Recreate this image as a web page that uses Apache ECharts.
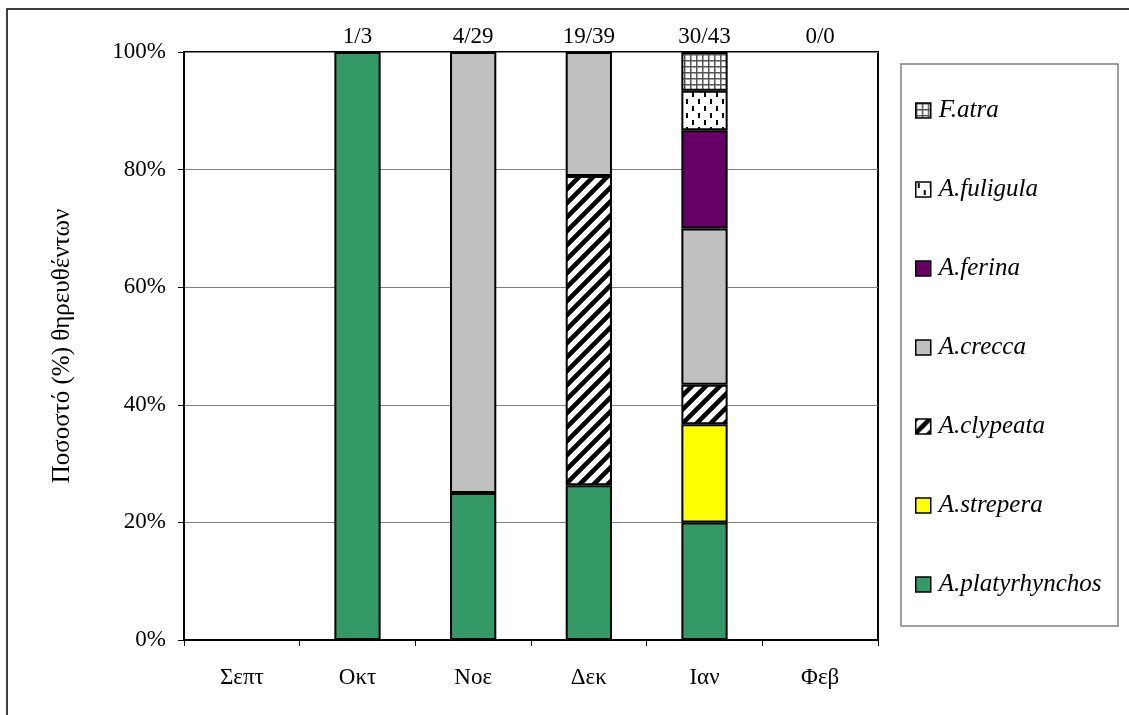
<!DOCTYPE html>
<html>
<head>
<meta charset="utf-8">
<script src="https://cdn.jsdelivr.net/npm/echarts@6/dist/echarts.min.js"></script>
<style>
  html, body { margin: 0; padding: 0; background: #fff; }
  #chart { width: 1129px; height: 715px; }
</style>
</head>
<body>
<div id="chart"></div>
<script>
var months = ['Σεπτ', 'Οκτ', 'Νοε', 'Δεκ', 'Ιαν', 'Φεβ']
var totals = ['', '1/3', '4/29', '19/39', '30/43', '0/0']
var yTicks = [0, 20, 40, 60, 80, 100]

// percentages per month (null = none caught)
var platyrhynchos = [null, 100, 25, 26.3, 20, null]
var strepera = [null, null, null, null, 16.7, null]
var clypeata = [null, null, null, 52.6, 6.7, null]
var crecca = [null, null, 75, 21.1, 26.6, null]
var ferina = [null, null, null, null, 16.7, null]
var fuligula = [null, null, null, null, 6.7, null]
var atra = [null, null, null, null, 6.6, null]

var FONT = 'Liberation Serif'

// hatch fills
function stripes () {
  var s = 14
  var c = document.createElement('canvas')
  c.width = s; c.height = s
  var ctx = c.getContext('2d')
  ctx.fillStyle = '#fff'
  ctx.fillRect(0, 0, s, s)
  ctx.strokeStyle = '#000'
  ctx.lineWidth = 4.6
  ctx.beginPath()
  ctx.moveTo(-2, s + 2); ctx.lineTo(s + 2, -2)
  ctx.moveTo(-3, 3); ctx.lineTo(3, -3)
  ctx.moveTo(s - 3, s + 3); ctx.lineTo(s + 3, s - 3)
  ctx.stroke()
  return c
}
function dashes () {
  var c = document.createElement('canvas')
  c.width = 12; c.height = 14
  var ctx = c.getContext('2d')
  ctx.fillStyle = '#fff'
  ctx.fillRect(0, 0, 12, 14)
  ctx.fillStyle = '#000'
  ctx.fillRect(2, 1, 2, 5)
  ctx.fillRect(8, 8, 2, 5)
  return c
}
function grid () {
  var c = document.createElement('canvas')
  c.width = 6; c.height = 6
  var ctx = c.getContext('2d')
  ctx.fillStyle = '#fff'
  ctx.fillRect(0, 0, 6, 6)
  ctx.fillStyle = '#555'
  ctx.fillRect(0, 0, 6, 1.5)
  ctx.fillRect(0, 0, 1.5, 6)
  return c
}

var seriesDefs = [
  { name: 'A.platyrhynchos', data: platyrhynchos, color: '#339966' },
  { name: 'A.strepera', data: strepera, color: '#FFFF00' },
  { name: 'A.clypeata', data: clypeata, color: { image: stripes(), repeat: 'repeat' } },
  { name: 'A.crecca', data: crecca, color: '#C0C0C0' },
  { name: 'A.ferina', data: ferina, color: '#660066' },
  { name: 'A.fuligula', data: fuligula, color: { image: dashes(), repeat: 'repeat' } },
  { name: 'F.atra', data: atra, color: { image: grid(), repeat: 'repeat' } }
]

var chart = echarts.init(document.getElementById('chart'))
chart.setOption({
  animation: false,
  backgroundColor: '#fff',
  textStyle: { fontFamily: FONT },
  grid: {
    left: 184, top: 52, width: 694, height: 588,
    show: true, borderColor: '#000', borderWidth: 2, backgroundColor: 'transparent'
  },
  graphic: [
    {
      type: 'rect',
      shape: { x: 7, y: 9, width: 1300, height: 900 },
      style: { fill: 'none', stroke: '#000', lineWidth: 1.5 },
      silent: true
    },
    {
      type: 'rect',
      shape: { x: 901, y: 64, width: 217, height: 562 },
      style: { fill: 'none', stroke: '#808080', lineWidth: 1.5 },
      silent: true
    }
  ],
  legend: {
    orient: 'vertical',
    left: 910,
    top: 93,
    itemGap: 54,
    itemWidth: 15,
    itemHeight: 15,
    icon: 'rect',
    selectedMode: false,
    data: seriesDefs.map(function (s) { return s.name }).reverse(),
    itemStyle: { borderColor: '#000', borderWidth: 1.5 },
    textStyle: { fontFamily: FONT, fontStyle: 'italic', fontSize: 25, lineHeight: 24, color: '#000', padding: [0, 0, 0, 3] }
  },
  xAxis: [
    {
      type: 'category',
      data: months,
      position: 'bottom',
      axisLine: { lineStyle: { color: '#000', width: 2 } },
      axisTick: { show: true, length: 6, lineStyle: { color: '#000', width: 1 } },
      axisLabel: { color: '#000', fontSize: 23, fontFamily: FONT, margin: 26 }
    },
    {
      type: 'category',
      data: totals,
      position: 'top',
      axisLine: { show: false },
      axisTick: { show: false },
      axisLabel: { color: '#000', fontSize: 23, fontFamily: FONT, margin: 4 }
    }
  ],
  yAxis: {
    type: 'value',
    min: yTicks[0],
    max: yTicks[yTicks.length - 1],
    interval: yTicks[1] - yTicks[0],
    name: 'Ποσοστό (%) θηρευθέντων',
    nameLocation: 'middle',
    nameGap: 109,
    nameTextStyle: { color: '#000', fontSize: 25, fontFamily: FONT },
    axisLine: { show: true, lineStyle: { color: '#000', width: 2 } },
    axisTick: { show: true, length: 6, lineStyle: { color: '#000', width: 1 } },
    axisLabel: { color: '#000', fontSize: 23, fontFamily: FONT, margin: 18, formatter: '{value}%' },
    splitLine: { lineStyle: { color: '#808080', width: 1 } }
  },
  series: seriesDefs.map(function (s) {
    return {
      name: s.name,
      type: 'bar',
      stack: 'total',
      barWidth: '40%',
      data: s.data,
      itemStyle: { color: s.color, borderColor: '#000', borderWidth: 2 }
    }
  })
})
</script>
</body>
</html>
